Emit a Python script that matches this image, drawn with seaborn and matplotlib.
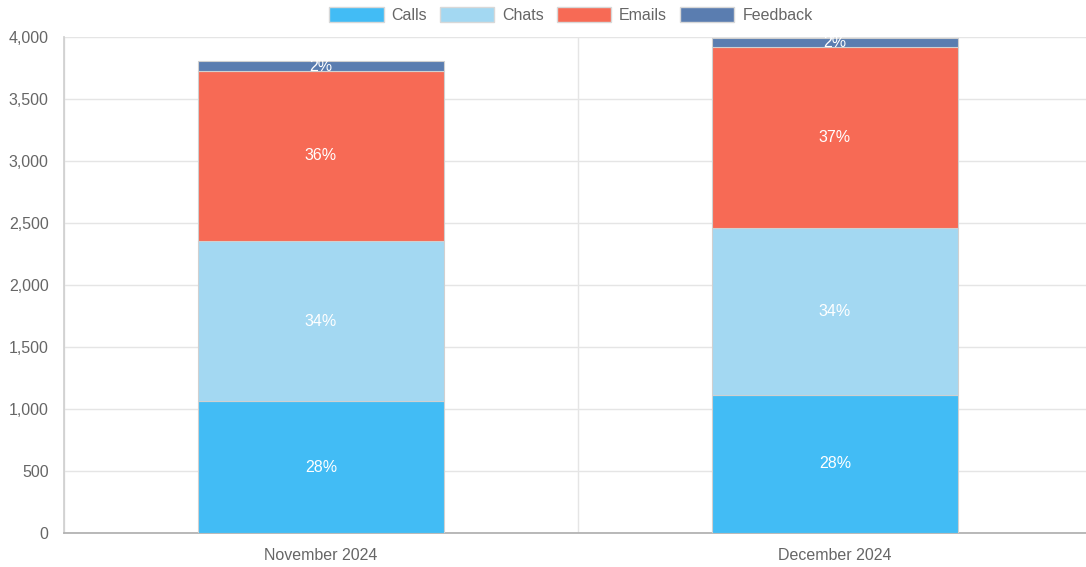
import matplotlib
matplotlib.use("Agg")
import matplotlib.pyplot as plt
import seaborn as sns
import pandas as pd
import numpy as np
from matplotlib.patches import Patch

months = ["November 2024", "December 2024"]
calls = [1064, 1113]
chats = [1291, 1347]
emails = [1371, 1459]
feedback = [80, 73]

series_names = ["Calls", "Chats", "Emails", "Feedback"]
series_values = [calls, chats, emails, feedback]
colors = ["#42BCF5", "#A3D8F2", "#F76A55", "#5A7DB0"]

sns.set_theme(style="white")
plt.rcParams['font.family'] = ['Liberation Sans', 'DejaVu Sans']

FS = 11.5
fig = plt.figure(figsize=(10.86, 5.67), dpi=100)
ax = fig.add_axes([64/1086, 34/567, 1028/1086, (533-37)/567])

totals = np.sum(series_values, axis=0)
bottom = np.zeros(len(months))
for name, vals, col in zip(series_names, series_values, colors):
    df = pd.DataFrame({"month": months, "value": vals})
    sns.barplot(data=df, x="month", y="value", color=col, bottom=bottom,
                width=0.479, edgecolor="#d0d0d0", linewidth=0.8, ax=ax,
                saturation=1, zorder=3)
    for i, v in enumerate(vals):
        pct = round(100 * v / totals[i])
        ax.text(i, bottom[i] + v / 2, f"{pct}%", ha="center", va="center",
                color="white", fontsize=FS, zorder=5)
    bottom = bottom + np.array(vals)

ax.set_xlim(-0.5, 1.5)
ax.set_ylim(0, 4000)
ax.set_yticks(np.arange(0, 4001, 500))
ax.set_yticklabels([f"{v:,}" for v in range(0, 4001, 500)])
ax.set_xlabel("")
ax.set_ylabel("")

ax.grid(axis="y", color="#e5e5e5", linewidth=1, zorder=0)
ax.set_xticks([-0.5, 0.5, 1.5], minor=True)
ax.grid(axis="x", which="minor", color="#e5e5e5", linewidth=1, zorder=0)
ax.tick_params(axis="x", which="major", length=0, pad=11, labelsize=FS, labelcolor="#666666")
ax.tick_params(axis="x", which="minor", length=10, color="#e0e0e0", width=1)
ax.tick_params(axis="y", length=8, color="#e0e0e0", width=1, pad=3, labelsize=FS, labelcolor="#666666")

for s in ["top", "right"]:
    ax.spines[s].set_visible(False)
ax.spines["left"].set_color("#d0d0d0")
ax.spines["bottom"].set_color("#b0b0b0")

handles = [Patch(facecolor=c, edgecolor="#d8d8d8", linewidth=1, label=n) for n, c in zip(series_names, colors)]
leg = fig.legend(handles=handles, loc="center", bbox_to_anchor=(571/1086, 1 - 15/567),
                 ncol=4, frameon=False, fontsize=FS, handlelength=3.4, handleheight=1.1,
                 handletextpad=0.5, columnspacing=0.8)
for t in leg.get_texts():
    t.set_color("#666666")

fig.savefig("out.png", dpi=100)
